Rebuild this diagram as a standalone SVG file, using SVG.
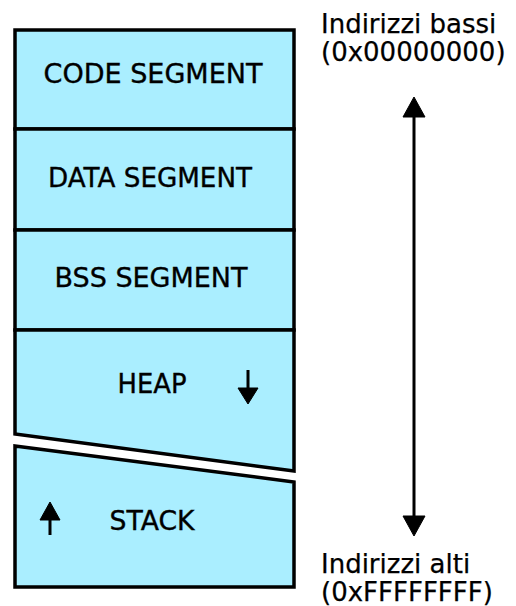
<svg xmlns="http://www.w3.org/2000/svg" width="516" height="606" viewBox="0 0 516 606">
  <defs>
    <style>
      .seg { fill: #aaeeff; stroke: #000; stroke-width: 3.5; stroke-linejoin: miter; }
      .lbl { font-family: "DejaVu Sans", Verdana, sans-serif; font-size: 26px; fill: #000; stroke: #000; stroke-width: 0.35; text-anchor: middle; }
      .addr { font-family: "DejaVu Sans", Verdana, sans-serif; font-size: 26px; fill: #000; stroke: #000; stroke-width: 0.25; }
      .shaft { stroke: #000; stroke-width: 3; fill: none; }
      .head { fill: #000; stroke: #000; stroke-width: 1; stroke-linejoin: miter; }
    </style>
  </defs>

  <rect width="516" height="606" fill="#fff"/>

  <!-- memory segments -->
  <g id="code-segment">
    <rect class="seg" x="15" y="30" width="279" height="99"/>
    <text class="lbl" x="153" y="83" textLength="219" lengthAdjust="spacingAndGlyphs">CODE SEGMENT</text>
  </g>
  <g id="data-segment">
    <rect class="seg" x="15" y="129" width="279" height="101"/>
    <text class="lbl" x="150" y="187" textLength="204" lengthAdjust="spacingAndGlyphs">DATA SEGMENT</text>
  </g>
  <g id="bss-segment">
    <rect class="seg" x="15" y="230" width="279" height="100"/>
    <text class="lbl" x="151" y="287" textLength="193" lengthAdjust="spacingAndGlyphs">BSS SEGMENT</text>
  </g>
  <g id="heap">
    <polygon class="seg" points="15,330 294,330 294,471 15,434"/>
    <text class="lbl" x="152" y="393" textLength="69" lengthAdjust="spacingAndGlyphs">HEAP</text>
    <line class="shaft" x1="248" y1="370" x2="248" y2="390"/>
    <polygon class="head" points="238,388 258,388 248,404"/>
  </g>
  <g id="stack">
    <polygon class="seg" points="15,446 294,482 294,587 15,587"/>
    <text class="lbl" x="152" y="530" textLength="85" lengthAdjust="spacingAndGlyphs">STACK</text>
    <line class="shaft" x1="50" y1="518" x2="50" y2="535"/>
    <polygon class="head" points="50,502 60,520 40,520"/>
  </g>

  <!-- address range labels -->
  <g id="low-address">
    <text class="addr" x="321" y="33">Indirizzi bassi</text>
    <text class="addr" x="321" y="61">(0x00000000)</text>
  </g>
  <g id="high-address">
    <text class="addr" x="321" y="573">Indirizzi alti</text>
    <text class="addr" x="321" y="601">(0xFFFFFFFF)</text>
  </g>

  <!-- address direction connector -->
  <g id="connectors">
    <line class="shaft" x1="414" y1="112" x2="414" y2="520"/>
    <polygon class="head" points="414,97 425,117 403,117"/>
    <polygon class="head" points="414,536 425,516 403,516"/>
  </g>
</svg>
